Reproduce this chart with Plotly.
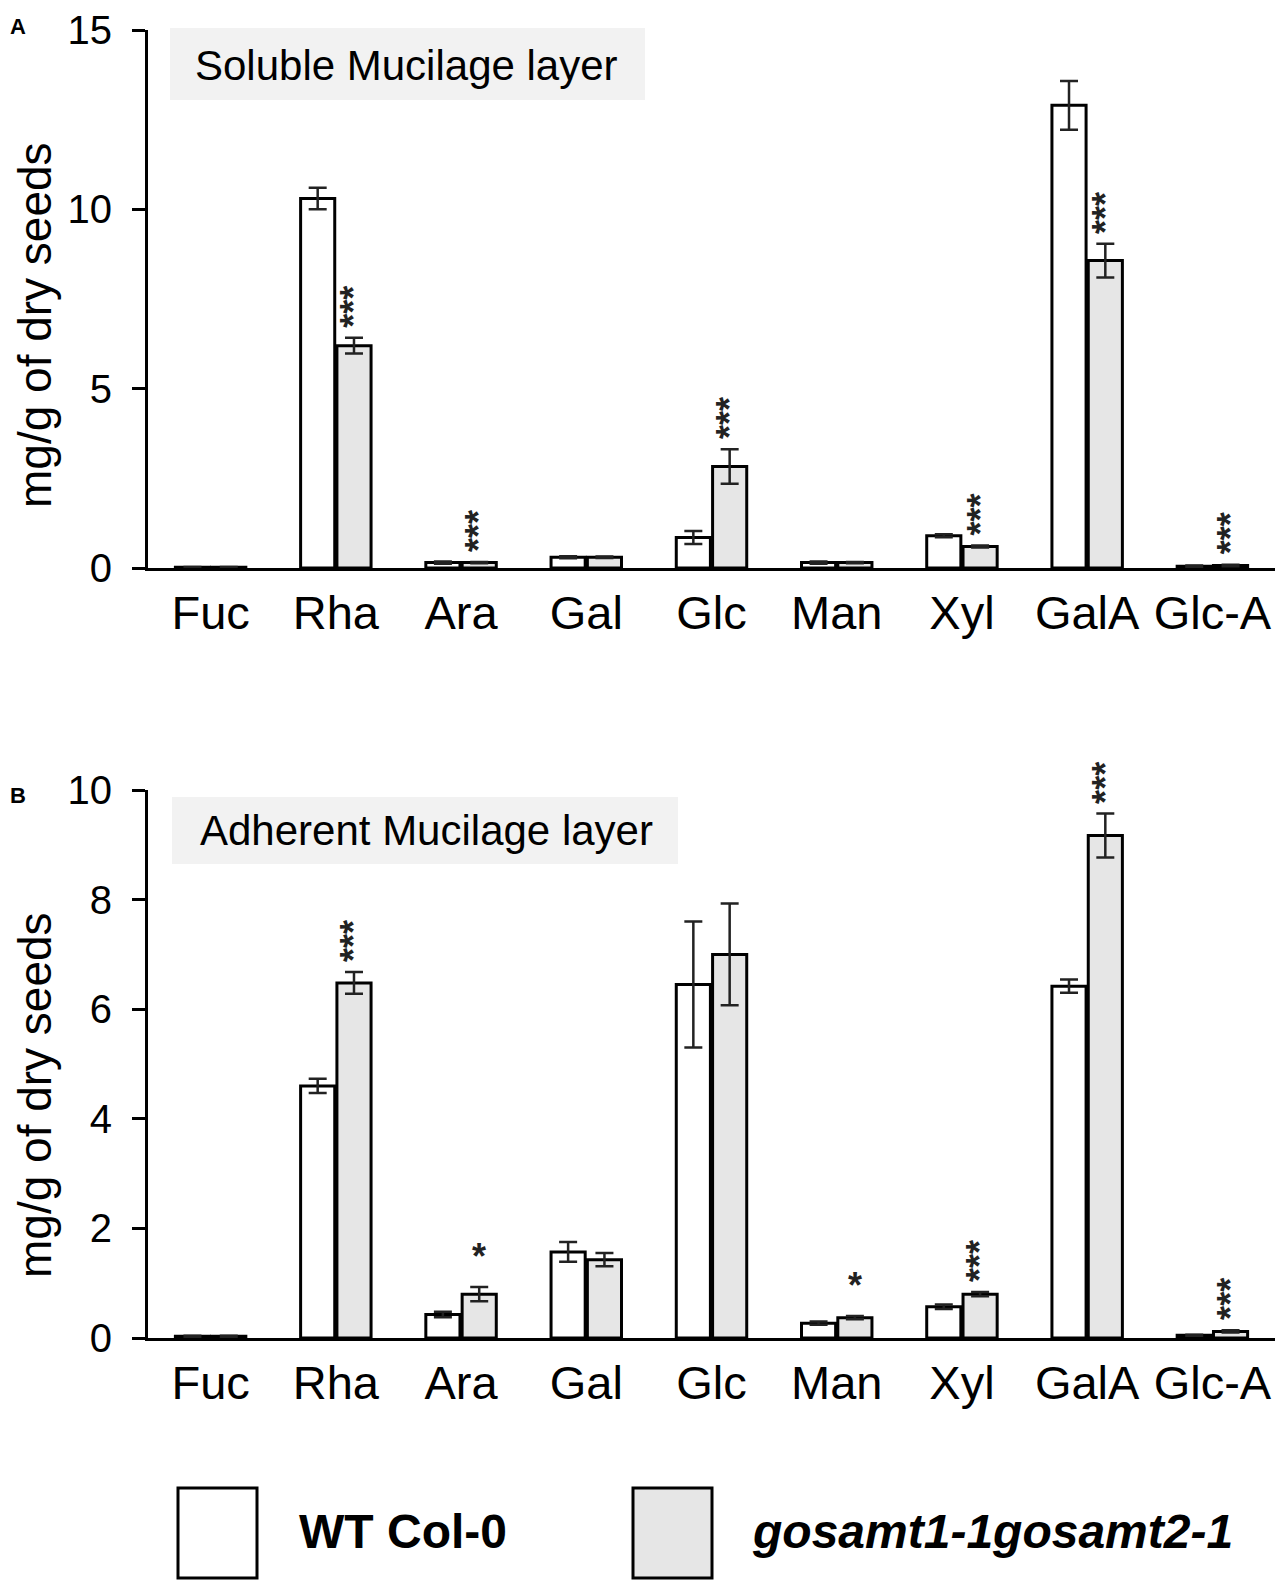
import plotly.graph_objects as go
from plotly.subplots import make_subplots

# sugar composition, mg/g of dry seeds
sugars = ["Fuc", "Rha", "Ara", "Gal", "Glc", "Man", "Xyl", "GalA", "Glc-A"]

# A - soluble mucilage layer
wt_sol = [0.02, 10.3, 0.15, 0.3, 0.85, 0.15, 0.9, 12.9, 0.05]
wt_sol_err = [0.01, 0.3, 0.03, 0.03, 0.18, 0.03, 0.04, 0.68, 0.02]
mut_sol = [0.02, 6.2, 0.15, 0.3, 2.83, 0.15, 0.6, 8.57, 0.07]
mut_sol_err = [0.01, 0.22, 0.02, 0.02, 0.48, 0.02, 0.03, 0.47, 0.02]
sig_sol = ["", "***", "***", "", "***", "", "***", "***", "***"]

# B - adherent mucilage layer
wt_adh = [0.03, 4.6, 0.43, 1.57, 6.45, 0.27, 0.57, 6.42, 0.05]
wt_adh_err = [0.01, 0.13, 0.05, 0.18, 1.15, 0.03, 0.04, 0.12, 0.01]
mut_adh = [0.03, 6.48, 0.8, 1.43, 7.0, 0.37, 0.8, 9.17, 0.12]
mut_adh_err = [0.01, 0.2, 0.13, 0.12, 0.93, 0.03, 0.04, 0.4, 0.02]
sig_adh = ["", "***", "*", "", "", "*", "***", "***", "***"]

W, H = 1283, 1582
L, R = 148, 8
FONT = "Liberation Sans, Arial, sans-serif"
GREY = "#e6e6e6"
BARGAP = 0.42


def px_x(p):
    return (p - L) / (W - L - R)


def px_y(p):
    return 1 - p / H


fig = make_subplots(rows=2, cols=1)

panels = [
    (1, wt_sol, wt_sol_err, mut_sol, mut_sol_err, sig_sol),
    (2, wt_adh, wt_adh_err, mut_adh, mut_adh_err, sig_adh),
]

for row, wt, wt_err, mut, mut_err, sig in panels:
    for vals, errs, fill in [(wt, wt_err, "white"), (mut, mut_err, GREY)]:
        fig.add_trace(
            go.Bar(
                x=sugars,
                y=vals,
                error_y=dict(type="data", array=errs, color="#222",
                             thickness=2.5, width=9),
                marker=dict(color=fill, line=dict(color="black", width=3)),
                showlegend=False,
            ),
            row=row, col=1,
        )
    # significance stars above the mutant bar
    shift = (1 - BARGAP) / 4
    ax = "y" if row == 1 else "y2"
    xa = "x" if row == 1 else "x2"
    for i, s in enumerate(sig):
        if not s:
            continue
        fig.add_annotation(
            x=i + shift, y=mut[i] + mut_err[i], xref=xa, yref=ax,
            text=f"<b>{s}</b>", textangle=-90 if len(s) > 1 else 0,
            showarrow=False, yanchor="bottom", yshift=8,
            font=dict(size=36, color="#222", family=FONT),
        )

fig.update_layout(
    width=W, height=H,
    margin=dict(l=L, r=R, t=0, b=0),
    paper_bgcolor="white", plot_bgcolor="white",
    barmode="group", bargap=BARGAP, bargroupgap=0.06,
    font=dict(family=FONT, color="black"),
)

fig.update_xaxes(
    showline=True, linecolor="black", linewidth=3, ticks="",
    showgrid=False, tickfont=dict(size=47, color="black"),
    ticklabelstandoff=2, range=[-0.5, 8.5], automargin=False,
)
fig.update_yaxes(
    showline=True, linecolor="black", linewidth=3, ticks="outside",
    ticklen=13, tickwidth=3, tickcolor="black", showgrid=False,
    zeroline=False, tickfont=dict(size=40, color="black"),
    ticklabelstandoff=12, automargin=False,
)
fig.update_layout(
    xaxis=dict(domain=[0, 1], anchor="y"),
    yaxis=dict(domain=[px_y(568), px_y(30)], range=[0, 15], dtick=5),
    xaxis2=dict(domain=[0, 1], anchor="y2"),
    yaxis2=dict(domain=[px_y(1338), px_y(790)], range=[0, 10], dtick=2),
)

# panel letters, y titles and layer labels
for letter, ly in [("A", 27), ("B", 795)]:
    fig.add_annotation(x=px_x(8), y=px_y(ly), xref="paper", yref="paper",
                       text=f"<b>{letter}</b>", showarrow=False,
                       xanchor="left", yanchor="middle",
                       font=dict(size=22, family=FONT))
for cy in [325, 1095]:
    fig.add_annotation(x=px_x(35), y=px_y(cy), xref="paper", yref="paper",
                       text="mg/g of dry seeds", textangle=-90,
                       showarrow=False, xanchor="center", yanchor="middle",
                       font=dict(size=46, family=FONT))

boxes = [
    ("Soluble Mucilage layer", 170, 645, 28, 100, 193, 66),
    ("Adherent Mucilage layer", 172, 678, 797, 864, 198, 830),
]
for label, x0, x1, y0, y1, tx, ty in boxes:
    fig.add_shape(type="rect", xref="paper", yref="paper",
                  x0=px_x(x0), x1=px_x(x1), y0=px_y(y1), y1=px_y(y0),
                  fillcolor="#f2f2f2", line=dict(width=0), layer="below")
    fig.add_annotation(x=px_x(tx), y=px_y(ty), xref="paper", yref="paper",
                       text=label, showarrow=False, xanchor="left",
                       yanchor="middle", font=dict(size=42, family=FONT))

# legend drawn by hand below the panels
legend_items = [
    ("<b>WT Col-0</b>", "white", 178, 257, 297),
    ("<b><i>gosamt1-1gosamt2-1</i></b>", GREY, 633, 712, 750),
]
for label, fill, x0, x1, tx in legend_items:
    fig.add_shape(type="rect", xref="paper", yref="paper",
                  x0=px_x(x0), x1=px_x(x1), y0=px_y(1578), y1=px_y(1488),
                  fillcolor=fill, line=dict(color="black", width=3))
    fig.add_annotation(x=px_x(tx), y=px_y(1531), xref="paper", yref="paper",
                       text=label, showarrow=False, xanchor="left",
                       yanchor="middle", font=dict(size=48, family=FONT))

# page body has a default 8px margin; drop it so the figure sits at 0,0
fig.write_html("out.html", config={"displayModeBar": False},
               post_script="document.body.style.margin = '0';")
